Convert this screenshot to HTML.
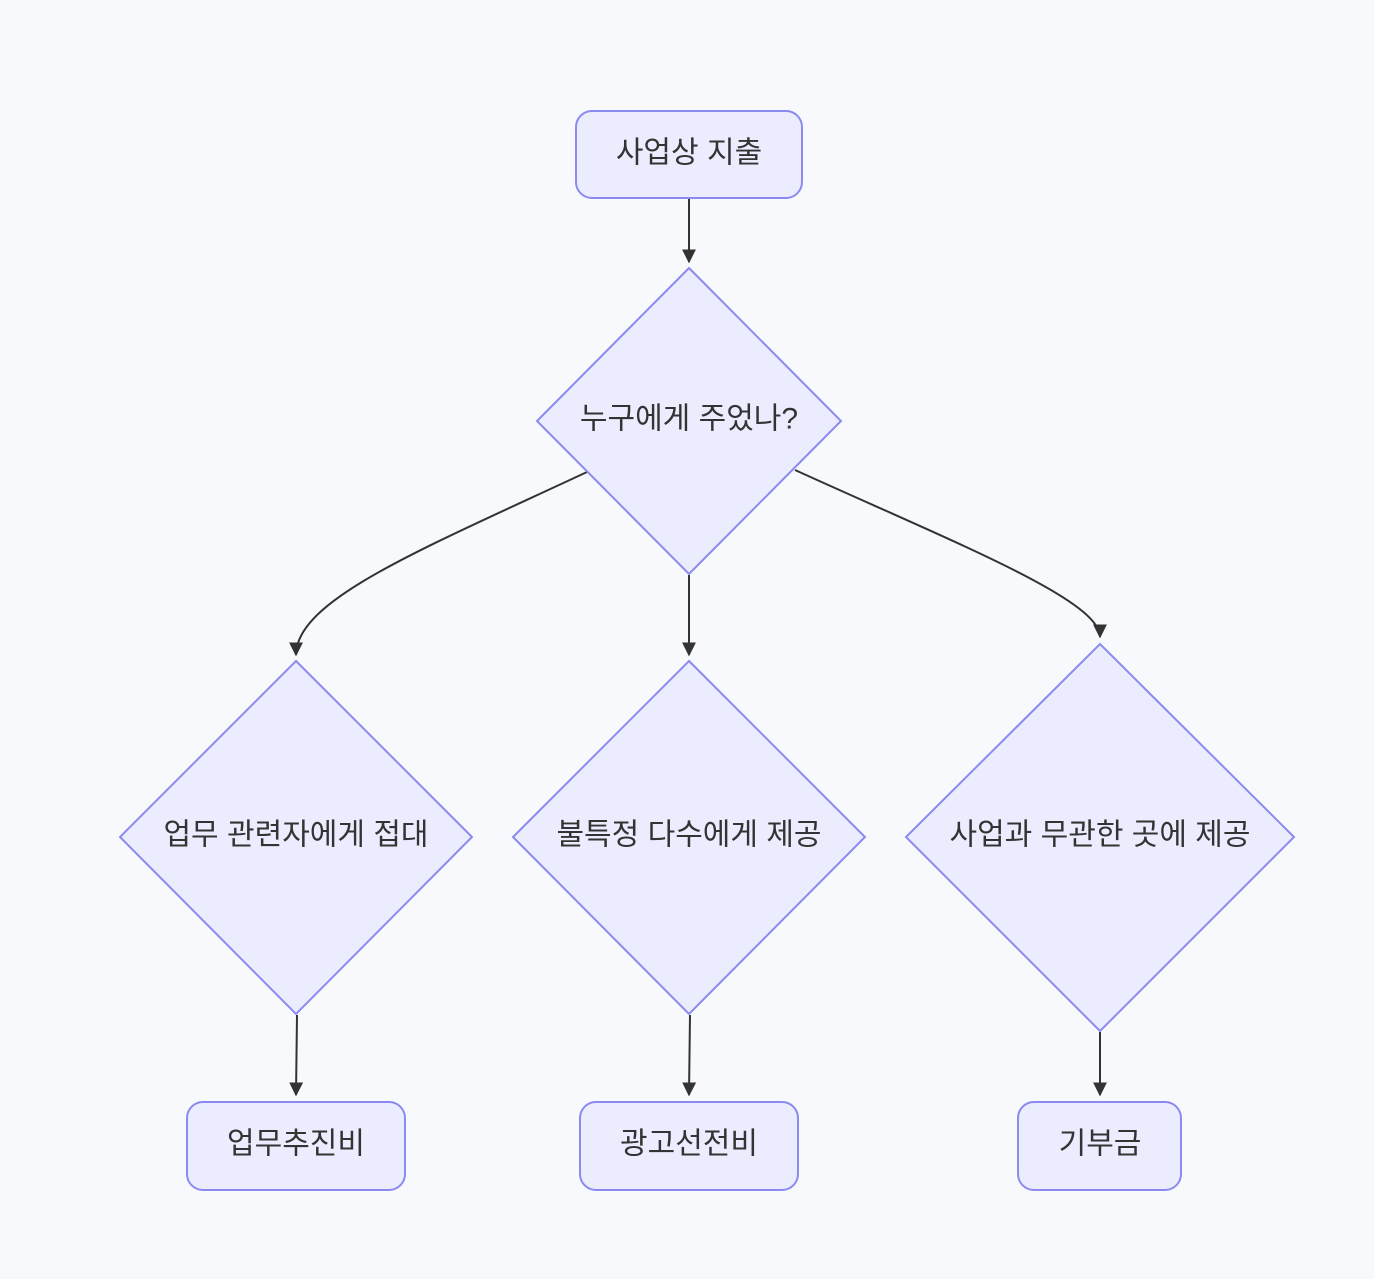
<!DOCTYPE html>
<html><head><meta charset="utf-8"><style>
html,body{margin:0;padding:0;background:#f8f9fc;}
svg{display:block}
text{font-family:"Liberation Sans","Noto Sans CJK KR",sans-serif;font-size:30px;fill:#333;text-anchor:middle;dominant-baseline:central;}
</style></head><body>
<svg width="1374" height="1279" viewBox="0 0 1374 1279" xmlns="http://www.w3.org/2000/svg">
<defs><marker id="a" viewBox="0 0 10 10" refX="9" refY="5" markerWidth="7" markerHeight="7" orient="auto"><path d="M0,0L10,5L0,10z" fill="#333"/></marker></defs>
<g fill="none" stroke="#333" stroke-width="2" marker-end="url(#a)">
<path d="M689,199 L689,262"/>
<path d="M587,472 C420,550 296,600 296,655"/>
<path d="M689,575 L689,655"/>
<path d="M795,470 C960,545 1100,600 1100,637"/>
<path d="M297,1015 L296,1095"/>
<path d="M690,1015 L689,1095"/>
<path d="M1100,1032 L1100,1095"/>
</g>
<g fill="#ececff" stroke="#8a8af0" stroke-width="2">
<rect x="576" y="111" width="226" height="87" rx="16"/>
<polygon points="689,268 841,421 689,574 537,421"/>
<polygon points="296,661 472,837 296,1014 120,837"/>
<polygon points="689,661 865,837 689,1014 513,837"/>
<polygon points="1100,644 1294,837 1100,1031 906,837"/>
<rect x="187" y="1102" width="218" height="88" rx="16"/>
<rect x="580" y="1102" width="218" height="88" rx="16"/>
<rect x="1018" y="1102" width="163" height="88" rx="16"/>
</g>
<text x="689" y="153">사업상 지출</text>
<text x="689" y="419">누구에게 주었나?</text>
<text x="296" y="835">업무 관련자에게 접대</text>
<text x="689" y="835">불특정 다수에게 제공</text>
<text x="1100" y="835">사업과 무관한 곳에 제공</text>
<text x="296" y="1144">업무추진비</text>
<text x="689" y="1144">광고선전비</text>
<text x="1100" y="1144">기부금</text>
</svg>
</body></html>
